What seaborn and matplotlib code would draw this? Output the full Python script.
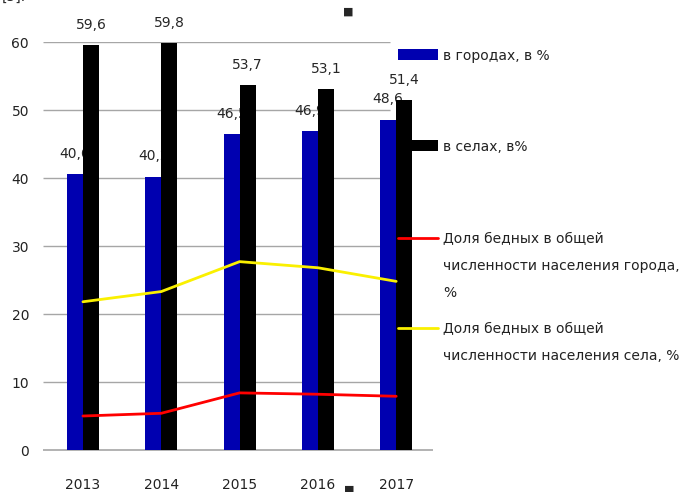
import numpy as np
import pandas as pd
import matplotlib.pyplot as plt
import seaborn as sns
from matplotlib.patches import Patch
from matplotlib.lines import Line2D

years = ["2013", "2014", "2015", "2016", "2017"]
city = [40.6, 40.2, 46.5, 46.9, 48.6]
village = [59.6, 59.8, 53.7, 53.1, 51.4]
poor_city = [5.0, 5.4, 8.4, 8.2, 7.9]
poor_village = [21.8, 23.3, 27.7, 26.8, 24.8]

lbl_city = "в городах, в %"
lbl_village = "в селах, в%"
lbl_poor_city = "Доля бедных в общей\nчисленности населения города,\n%"
lbl_poor_village = "Доля бедных в общей\nчисленности населения села, %"

c_blue = "#0000B0"
c_black = "#000000"
c_red = "#FF0000"
c_yellow = "#FAF000"

sns.set_style("white")
plt.rcParams["font.family"] = ["DejaVu Sans"]

W, H = 698, 492
fig = plt.figure(figsize=(W / 100, H / 100), dpi=100)
ax = fig.add_axes([43 / W, 42 / H, 390 / W, 408 / H])

df = pd.DataFrame(
    {
        "year": years * 2,
        "value": city + village,
        "group": [lbl_city] * len(years) + [lbl_village] * len(years),
    }
)
sns.barplot(
    data=df, x="year", y="value", hue="group",
    palette={lbl_city: c_blue, lbl_village: c_black},
    width=0.41, saturation=1, linewidth=0, legend=False, ax=ax,
)

blue_c, black_c = ax.containers[0], ax.containers[1]
for p in blue_c:
    p.set_zorder(2)
for p in black_c:
    p.set_zorder(4)
fmt = lambda vals: [f"{v:.1f}".replace(".", ",") for v in vals]
for t in ax.bar_label(blue_c, labels=fmt(city), padding=9.5, fontsize=10):
    t.set_zorder(3)
for t in ax.bar_label(black_c, labels=fmt(village), padding=9.5, fontsize=10):
    t.set_zorder(5)

xs = np.arange(len(years))
ax.plot(xs, poor_city, color=c_red, lw=2, zorder=6)
ax.plot(xs, poor_village, color=c_yellow, lw=2, zorder=6)

ax.set_xlim(-0.51, 4.47)
ax.set_ylim(0, 60)
ax.set_yticks(range(0, 61, 10))
for y in range(10, 61, 10):
    ax.hlines(y, -0.51, 3.92, color="#A6A6A6", lw=1, zorder=1)
ax.hlines(0, -0.51, 4.47, color="#A6A6A6", lw=1.2, zorder=1, clip_on=False)
for s in ax.spines.values():
    s.set_visible(False)
ax.tick_params(axis="y", length=0, pad=10, labelsize=10, labelcolor="#222222")
ax.tick_params(axis="x", length=0, pad=20, labelsize=10, labelcolor="#222222")
ax.set_xlabel("")
ax.set_ylabel("")

# legend: one block per entry, spaced like the original
entries = [
    (Patch(facecolor=c_blue, edgecolor="none"), lbl_city, 57),
    (Patch(facecolor=c_black, edgecolor="none"), lbl_village, 148),
    (Line2D([], [], color=c_red, lw=2), lbl_poor_city, 240),
    (Line2D([], [], color=c_yellow, lw=2), lbl_poor_village, 330),
]
for handle, label, ypix in entries:
    is_line = isinstance(handle, Line2D)
    leg = fig.legend(
        handles=[handle], labels=[label], loc="upper left",
        bbox_to_anchor=(398 / W, 1 - (ypix - 8) / H),
        frameon=False, borderpad=0, borderaxespad=0,
        handlelength=2.9, handletextpad=0.35,
        handleheight=1.15 if is_line else 0.85, fontsize=10,
    )
    for t in leg.get_texts():
        t.set_linespacing(2.2)
        t.set_color("#222222")
    for col in leg._legend_handle_box.get_children():
        for row in col.get_children():
            row.align = "top"

# stray marks from the source image
fig.text(2 / W, 1 - 1 / H, "[5].", fontsize=10, va="baseline")
fig.text(348 / W, 1 - 12 / H, "■", fontsize=8, ha="center", va="center")
fig.text(349 / W, 1 - 490 / H, "■", fontsize=8, ha="center", va="center")

fig.savefig("out.png", dpi=100)
